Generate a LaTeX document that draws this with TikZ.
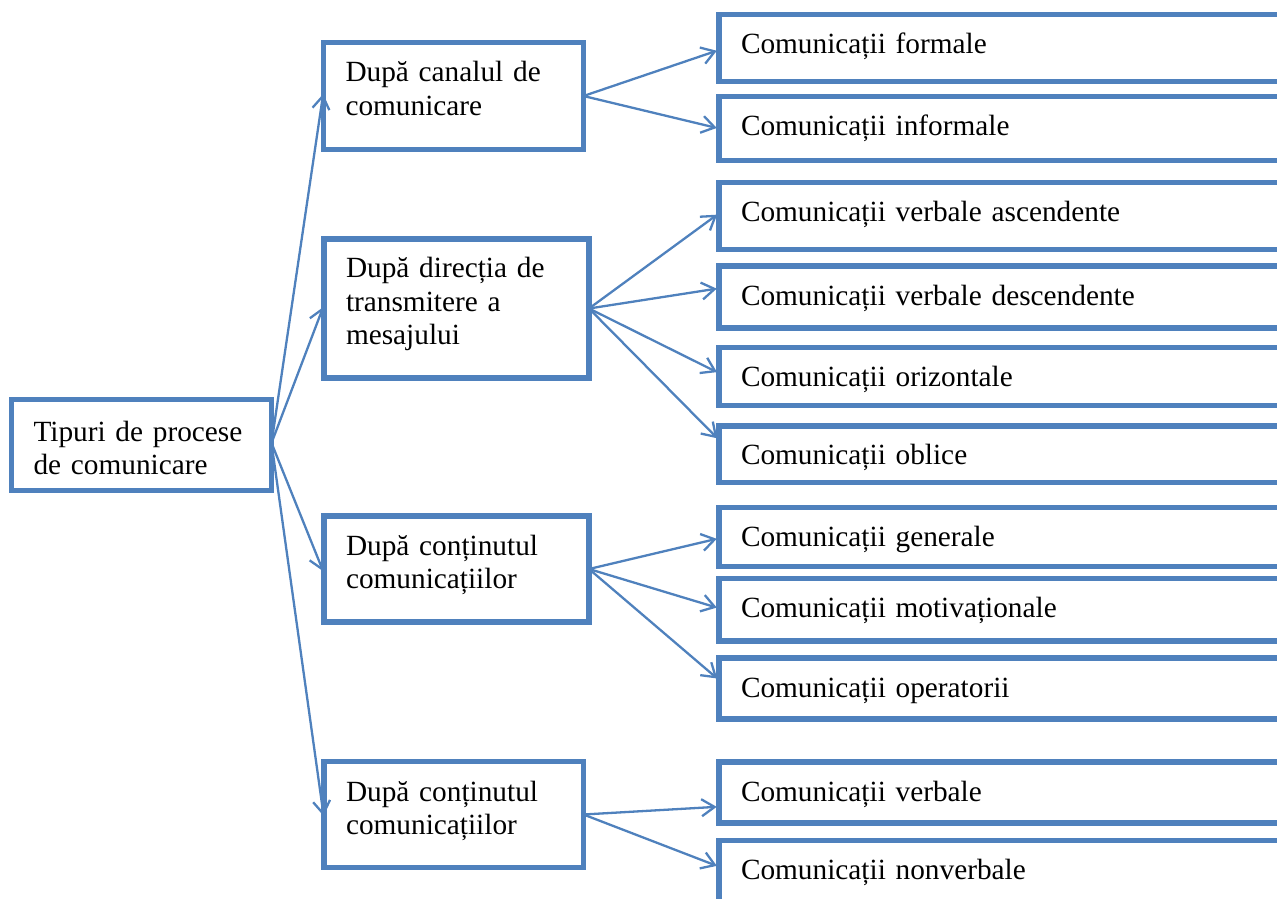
\documentclass[tikz,border=0pt]{standalone}
\usepackage{fontspec}
\setmainfont{Liberation Serif}
\usetikzlibrary{arrows.meta}
\definecolor{wblue}{RGB}{79,129,189}
\tikzset{
  box/.style={draw=wblue, line width=5.5pt, inner xsep=22pt, inner ysep=0pt,
    outer sep=0pt, align=left, anchor=base west,
    font=\fontsize{29.3pt}{33.7pt}\selectfont},
  rbox/.style={box, text width=537pt, text height=39pt},
  arr/.style={draw=wblue, line width=2.3pt,
    -{Straight Barb[length=13pt,width=17pt]},
    shorten >=2.3pt, shorten <=2.3pt}
}
\begin{document}
\begin{tikzpicture}[x=1pt,y=-1pt]
\useasboundingbox (0,0) rectangle (1277,899);
\clip (0,0) rectangle (1277,899);
% root
\node[box, text width=216pt, text height=41.5pt, text depth=49.5pt] (root) at (11.5,441) {Tipuri de procese\\de comunicare};
% level 2
\node[box, text width=216pt, text height=39pt, text depth=68pt] (A) at (323.5,81.5) {După canalul de\\comunicare};
\node[box, text width=221pt, text height=38.5pt, text depth=100.5pt] (B) at (324,277.5) {După direcția de\\transmitere a\\mesajului};
\node[box, text width=221pt, text height=39pt, text depth=67pt] (C) at (324,555) {După conținutul\\comunicațiilor};
\node[box, text width=215.5pt, text height=39.5pt, text depth=66.5pt] (D) at (324,801) {După conținutul\\comunicațiilor};
% level 3
\node[rbox, text depth=28.2pt] (n1) at (719,53.5) {Comunicații formale};
\node[rbox, text depth=25pt] (n2) at (719,135.5) {Comunicații informale};
\node[rbox, text depth=27.6pt] (n3) at (719,221.7) {Comunicații verbale ascendente};
\node[rbox, text depth=22.8pt] (n4) at (719,305) {Comunicații verbale descendente};
\node[rbox, text depth=19.1pt] (n5) at (719,386.5) {Comunicații orizontale};
\node[rbox, text depth=17.7pt] (n6) at (719,464.8) {Comunicații oblice};
\node[rbox, text depth=20pt] (n7) at (719,546.5) {Comunicații generale};
\node[rbox, text depth=23.5pt] (n8) at (719,617.5) {Comunicații motivaționale};
\node[rbox, text depth=22pt] (n9) at (719,697) {Comunicații operatorii};
\node[rbox, text depth=22pt] (n10) at (719,801) {Comunicații verbale};
\node[rbox, text depth=30.5pt] (n11) at (719,879.5) {Comunicații nonverbale};
% connectors
\draw[arr] ([yshift=2pt]root.east) -- ([yshift=4.3pt]A.west);
\draw[arr] ([yshift=2pt]root.east) -- ([yshift=3.5pt]B.west);
\draw[arr] ([yshift=2pt]root.east) -- ([yshift=-4.3pt]C.west);
\draw[arr] ([yshift=2pt]root.east) -- ([yshift=-3.8pt]D.west);
\draw[arr] (A.east) -- ([yshift=-1.9pt]n1.west);
\draw[arr] (A.east) -- (n2.west);
\draw[arr] (B.east) -- ([yshift=2.7pt]n3.west);
\draw[arr] (B.east) -- ([yshift=8.6pt]n4.west);
\draw[arr] (B.east) -- ([yshift=3.4pt]n5.west);
\draw[arr] (B.east) -- ([yshift=14.2pt]n6.west);
\draw[arr] (C.east) -- ([yshift=-1.3pt]n7.west);
\draw[arr] (C.east) -- ([yshift=1.5pt]n8.west);
\draw[arr] (C.east) -- ([yshift=8.5pt]n9.west);
\draw[arr] (D.east) -- ([yshift=-14.2pt]n10.west);
\draw[arr] (D.east) -- ([yshift=-26.2pt]n11.north west);
\end{tikzpicture}
\end{document}
